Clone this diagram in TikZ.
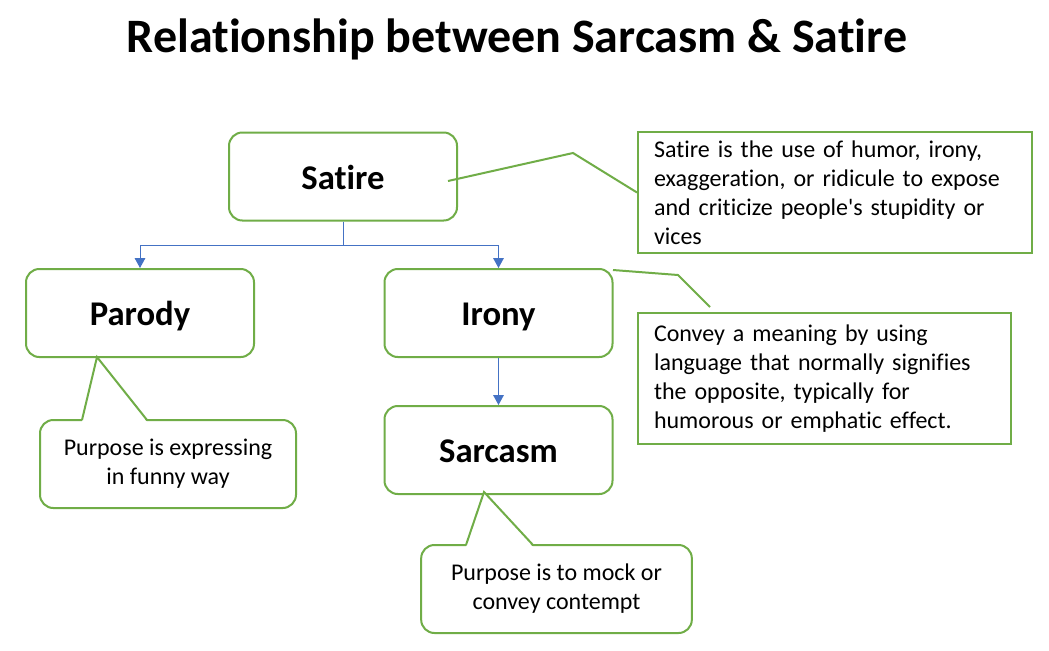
\documentclass[tikz,border=0pt]{standalone}
\usepackage{fontspec}
\setmainfont{Carlito}[Ligatures={TeX,NoCommon}]
\usetikzlibrary{arrows.meta,calc}
\definecolor{grn}{HTML}{70AD47}
\definecolor{blu}{HTML}{4472C4}
\begin{document}
\begin{tikzpicture}[x=0.75pt,y=-0.75pt,
 box/.style={draw=grn,line width=1.5pt,rounded corners=10pt,fill=white,minimum width=171pt,minimum height=66pt,inner sep=0pt,font=\fontsize{26}{31}\selectfont\bfseries,text height=18.75pt,text depth=0pt},
 callout/.style={draw=grn,line width=1.5pt,rounded corners=10pt,fill=white,minimum height=66pt,inner sep=0pt,align=center,font=\fontsize{18}{21.75}\selectfont},
 defbox/.style={draw=grn,line width=1.5pt,fill=white,inner xsep=12pt,inner ysep=0pt,align=left,font=\fontsize{18}{21.75}\selectfont},
 tail/.style={draw=grn,line width=1.5pt,line join=miter},
 conn/.style={draw=blu,line width=0.75pt,-{Triangle[width=8pt,length=7.5pt]}},
 lead/.style={draw=grn,line width=1.5pt}]
\useasboundingbox (0,0) rectangle (1049,650);
\fill[white] (0,0) rectangle (1049,650);

\node[anchor=base,font=\fontsize{36}{43}\selectfont\bfseries] (title) at (517,52) {Relationship between Sarcasm \& Satire};

% main boxes
\node[box] (satire) at (343,176.5) {Satire};
\node[box] (parody) at (140,313) {Parody};
\node[box] (irony) at (498.5,313) {Irony};
\node[box] (sarcasm) at (498.5,450) {Sarcasm};

% definition boxes
\node[defbox,text width=271.5pt,minimum height=90.75pt] (def1) at (835,192.5)
  {Satire is the use of humor, irony,\\exaggeration, or ridicule to expose\\and criticize people\textquotesingle s stupidity or\\vices};
\node[defbox,text width=255.75pt,minimum height=98.25pt] (def2) at (824.5,378.5)
  {Convey a meaning by using\\language that normally signifies\\the opposite, typically for\\humorous or emphatic effect.};

% leader lines
\coordinate (l1a) at (448,181);
\coordinate (l1b) at (573,153);
\draw[lead] (l1a) -- (l1b) -- (def1.west);
\coordinate (l2a) at (613,270);
\coordinate (l2b) at (678,275);
\coordinate (l2c) at (710,307);
\draw[lead] (l2a) -- (l2b) -- (l2c);

% callouts
\node[callout,minimum width=192pt] (pc) at (168,464) {Purpose is expressing\\in funny way};
\coordinate (pcl) at (82,420);
\coordinate (pca) at (97,357);
\coordinate (pcr) at (147,420);
\fill[white] ($(pcl)+(0,2)$) -- (pca) -- ($(pcr)+(0,2)$) -- cycle;
\draw[tail] (pcl) -- (pca) -- (pcr);

\node[callout,minimum width=203pt] (sc) at (556.5,589) {Purpose is to mock or\\convey contempt};
\coordinate (scl) at (466,545);
\coordinate (sca) at (484,492);
\coordinate (scr) at (533,545);
\fill[white] ($(scl)+(0,2)$) -- (sca) -- ($(scr)+(0,2)$) -- cycle;
\draw[tail] (scl) -- (sca) -- (scr);

% connectors
\draw[conn] (satire.south) -- ++(0,24) -| (parody.north);
\draw[conn] (satire.south) -- ++(0,24) -| (irony.north);
\draw[conn] (irony.south) -- (sarcasm.north);
\end{tikzpicture}
\end{document}
